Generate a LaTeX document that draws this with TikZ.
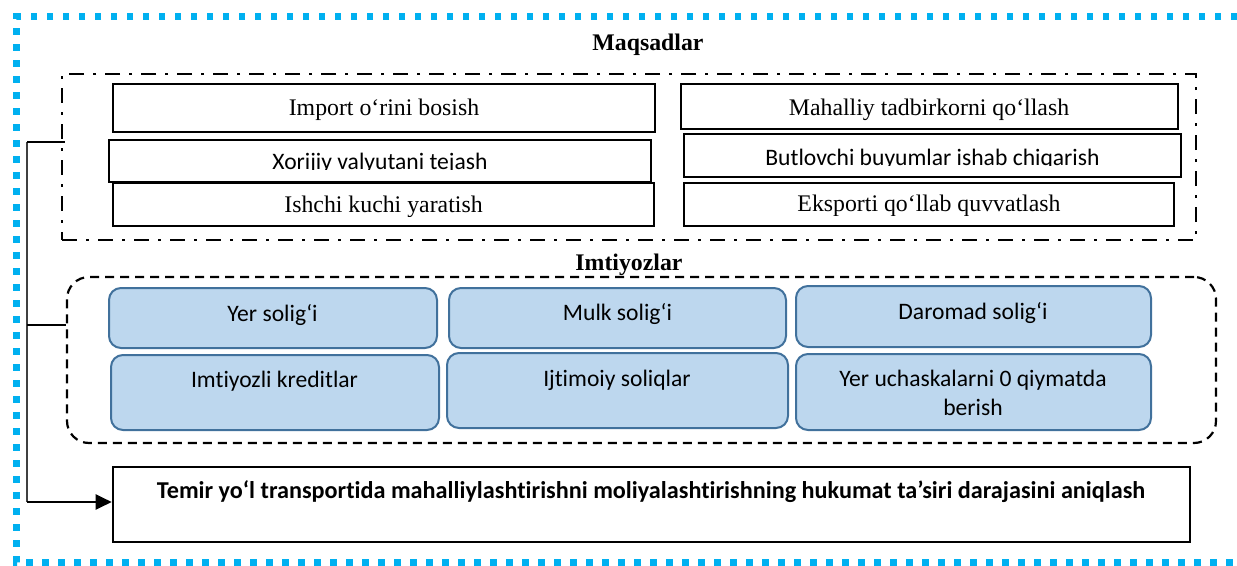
\documentclass[tikz,border=0pt]{standalone}
\usepackage{fontspec}
\setmainfont{Liberation Serif}
\newfontfamily\calfont[Ligatures={NoCommon}]{Carlito}
\usetikzlibrary{fit,arrows.meta}
\definecolor{frameblue}{RGB}{0,176,240}
\definecolor{paleblue}{RGB}{189,215,238}
\definecolor{edgeblue}{RGB}{65,113,156}
\tikzset{
  outerframe/.style={draw=frameblue, line width=6.5pt, dash pattern=on 6.5pt off 9.5pt},
  goalframe/.style={draw=black, line width=2.4pt, dash pattern=on 15pt off 9pt on 3pt off 9pt, inner sep=0pt},
  benefitframe/.style={draw=black, line width=2.2pt, dash pattern=on 9pt off 6pt, rounded corners=22pt, inner sep=0pt},
  wbox/.style={draw=black, line width=2.6pt, fill=white, inner sep=0pt},
  bbox/.style={draw=edgeblue, line width=2pt, fill=paleblue, rounded corners=12pt, inner sep=0pt},
  serif/.style={font=\fontsize{23.8}{28}\selectfont, anchor=base, inner sep=0pt},
  serifbold/.style={font=\bfseries\fontsize{23.8}{28}\selectfont, anchor=base, inner sep=0pt},
  sans/.style={font=\calfont\fontsize{23.6}{28}\selectfont, anchor=base, inner sep=0pt},
  sansbold/.style={font=\calfont\bfseries\fontsize{24.2}{28}\selectfont, anchor=base, inner sep=0pt},
  trunk/.style={draw=black!75, line width=1.5pt},
  link/.style={draw=black, line width=1.8pt},
  arrowlink/.style={draw=black, line width=2.2pt, -{Triangle[length=16pt, width=15pt]}},
}
\begin{document}
\begin{tikzpicture}[x=1pt, y=-1pt]
\useasboundingbox (0,0) rectangle (1237,565);

% outer dotted frame (open on the right)
\draw[outerframe] (1237,16.5) -- (16.5,16.5) -- (16.5,562.5) -- (1237,562.5);

% ---- goals ----
\node[serifbold] (goalsTitle) at (648,50) {Maqsadlar};
\node[goalframe, fit={(62,74) (1196,240)}] (goals) {};

\node[wbox, fit={(113,84) (655,132)}] (import) {};
\node[serif] (importT) at (384,115) {Import o‘rini bosish};

\node[wbox, fit={(109,140) (651,182)}] (valuta) {};
\begin{scope}
  \clip (110,141) rectangle (650,169.8);
  \node[sans] (valutaT) at (380,169.5) {Xorijiy valyutani tejash};
\end{scope}

\node[wbox, fit={(113,183) (654,226)}] (labour) {};
\begin{scope}
  \clip (114,184) rectangle (653,216);
  \node[serif] (labourT) at (383.5,212.8) {Ishchi kuchi yaratish};
\end{scope}

\node[wbox, fit={(681,84) (1178,129)}] (local) {};
\node[serif] (localT) at (929,115.5) {Mahalliy tadbirkorni qo‘llash};

\node[wbox, fit={(684,134) (1181,177)}] (parts) {};
\begin{scope}
  \clip (685,135) rectangle (1180,165.3);
  \node[sans] (partsT) at (932.5,165) {Butlovchi buyumlar ishab chiqarish};
\end{scope}

\node[wbox, fit={(684,183) (1174,226)}] (export) {};
\begin{scope}
  \clip (685,184) rectangle (1173,215);
  \node[serif] (exportT) at (929,211.3) {Eksporti qo‘llab quvvatlash};
\end{scope}

% ---- benefits ----
\node[benefitframe, fit={(67,277) (1216,443)}] (benefits) {};
\node[serifbold] (benefitsTitle) at (629,270.5) {Imtiyozlar};

\node[bbox, fit={(109,288) (437,348)}] (land) {};
\node[sans] (landT) at (272.5,321) {Yer solig‘i};
\node[bbox, fit={(449,288) (786,348)}] (property) {};
\node[sans] (propertyT) at (617.5,320) {Mulk solig‘i};
\node[bbox, fit={(796,286) (1151,347)}] (income) {};
\node[sans] (incomeT) at (973,319) {Daromad solig‘i};

\node[bbox, fit={(111,355) (439,430)}] (credit) {};
\node[sans] (creditT) at (274.5,387.7) {Imtiyozli kreditlar};
\node[bbox, fit={(447,353) (788,428)}] (social) {};
\node[sans] (socialT) at (617,386.7) {Ijtimoiy soliqlar};
\node[bbox, fit={(796,354) (1151,430)}] (plots) {};
\node[sans] (plotsT) at (973,386.7) {Yer uchaskalarni 0 qiymatda};
\node[sans] (plotsT2) at (973,415) {berish};

% ---- result ----
\node[wbox, fit={(113,467) (1190,542)}] (final) {};
\node[sansbold] (finalT) at (651,498) {Temir yo‘l transportida mahalliylashtirishni moliyalashtirishning hukumat ta’siri darajasini aniqlash};

% ---- connectors ----
\coordinate (trunkTop) at (27,142);
\coordinate (trunkMid) at (27,325);
\coordinate (trunkBot) at (27,502);
\draw[trunk] (trunkTop) -- (trunkBot);
\draw[link] (trunkTop) -- ([xshift=4pt]goals.west |- trunkTop);
\draw[link] (trunkMid) -- (benefits.west |- trunkMid);
\draw[arrowlink] (trunkBot) -- (final.west |- trunkBot);
\end{tikzpicture}
\end{document}
